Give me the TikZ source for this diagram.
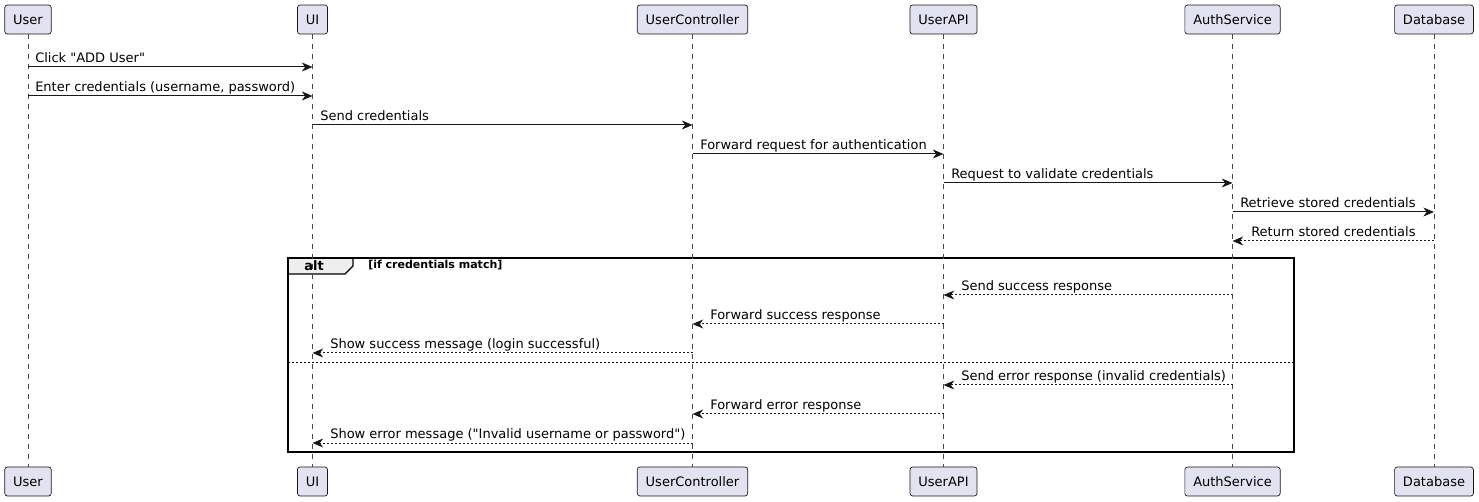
\documentclass[tikz,border=0pt]{standalone}
\usepackage{fontspec}
\setmainfont{DejaVu Sans}
\usetikzlibrary{arrows.meta}
\definecolor{partfill}{HTML}{E2E2F0}
\definecolor{partdraw}{HTML}{181818}
\definecolor{tabfill}{HTML}{EEEEEE}
\begin{document}
\begin{tikzpicture}[x=0.75pt,y=-0.75pt,
 part/.style={draw=partdraw,fill=partfill,rounded corners=2pt,line width=0.5pt,minimum height=21.75pt,inner xsep=6.3pt,font=\fontsize{9.75}{11}\selectfont},
 life/.style={draw=partdraw!80,line width=0.5pt,dash pattern=on 3.75pt off 3.75pt},
 msg/.style={draw=partdraw,line width=0.75pt,-{Stealth[length=8pt,width=6.75pt,inset=2.5pt]}},
 ret/.style={msg,dash pattern=on 1.5pt off 1.5pt},
 lbl/.style={font=\fontsize{9.75}{11}\selectfont,inner sep=0pt,anchor=base west,text=black},
]
\useasboundingbox (0,0) rectangle (1479,502);
% participants
\node[part] (User)  at (28,19.5) {User};
\node[part] (UI)    at (312.5,19.5) {UI};
\node[part] (UC)    at (692.5,19.5) {UserController};
\node[part] (API)   at (943.5,19.5) {UserAPI};
\node[part] (Auth)  at (1232.5,19.5) {AuthService};
\node[part] (DB)    at (1434,19.5) {Database};
\node[part] (Userb) at (28,481.5) {User};
\node[part] (UIb)   at (312.5,481.5) {UI};
\node[part] (UCb)   at (692.5,481.5) {UserController};
\node[part] (APIb)  at (943.5,481.5) {UserAPI};
\node[part] (Authb) at (1232.5,481.5) {AuthService};
\node[part] (DBb)   at (1434,481.5) {Database};
% alt frame
\draw[fill=tabfill,line width=0.8pt] (288,258) -- (353,258) -- (353,266) -- (345,274) -- (288,274) -- cycle;
\draw[line width=1.1pt] (288,258) rectangle (1294,452);
\node[font=\bfseries\fontsize{9.75}{11}\selectfont,inner sep=0pt] (altlbl) at (314,266) {alt};
\node[font=\bfseries\fontsize{8.25}{10}\selectfont,inner sep=0pt,anchor=base west] (cond) at (368,269) {[if credentials match]};
\draw[line width=0.6pt,dash pattern=on 1.5pt off 1.5pt] (288,362) -- (1294,362);
% lifelines
\draw[life] (User.south) -- (Userb.north);
\draw[life] (UI.south) -- (UIb.north);
\draw[life] (UC.south) -- (UCb.north);
\draw[life] (API.south) -- (APIb.north);
\draw[life] (Auth.south) -- (Authb.north);
\draw[life] (DB.south) -- (DBb.north);
% messages
\draw[msg] (User.south |- 0,67) -- (UI.south |- 0,67);
\node[lbl] (t1) at (35,62.5) {Click \textquotedbl ADD User\textquotedbl};
\draw[msg] (User.south |- 0,96) -- (UI.south |- 0,96);
\node[lbl] (t2) at (35,91.5) {Enter credentials (username, password)};
\draw[msg] (UI.south |- 0,125) -- (UC.south |- 0,125);
\node[lbl] (t3) at (320,120.5) {Send credentials};
\draw[msg] (UC.south |- 0,154) -- (API.south |- 0,154);
\node[lbl] (t4) at (700,149.5) {Forward request for authentication};
\draw[msg] (API.south |- 0,183) -- (Auth.south |- 0,183);
\node[lbl] (t5) at (951,178.5) {Request to validate credentials};
\draw[msg] (Auth.south |- 0,212) -- (DB.south |- 0,212);
\node[lbl] (t6) at (1240,207.5) {Retrieve stored credentials};
\draw[ret] (DB.south |- 0,241) -- (Auth.south |- 0,241);
\node[lbl] (t7) at (1251,236.5) {Return stored credentials};
\draw[ret] (Auth.south |- 0,295) -- (API.south |- 0,295);
\node[lbl] (t8) at (961,290.5) {Send success response};
\draw[ret] (API.south |- 0,324) -- (UC.south |- 0,324);
\node[lbl] (t9) at (710,319.5) {Forward success response};
\draw[ret] (UC.south |- 0,353) -- (UI.south |- 0,353);
\node[lbl] (t10) at (330,348.5) {Show success message (login successful)};
\draw[ret] (Auth.south |- 0,385) -- (API.south |- 0,385);
\node[lbl] (t11) at (961,380.5) {Send error response (invalid credentials)};
\draw[ret] (API.south |- 0,414) -- (UC.south |- 0,414);
\node[lbl] (t12) at (710,409.5) {Forward error response};
\draw[ret] (UC.south |- 0,443) -- (UI.south |- 0,443);
\node[lbl] (t13) at (330,438.5) {Show error message (\textquotedbl Invalid username or password\textquotedbl)};
\end{tikzpicture}
\end{document}
